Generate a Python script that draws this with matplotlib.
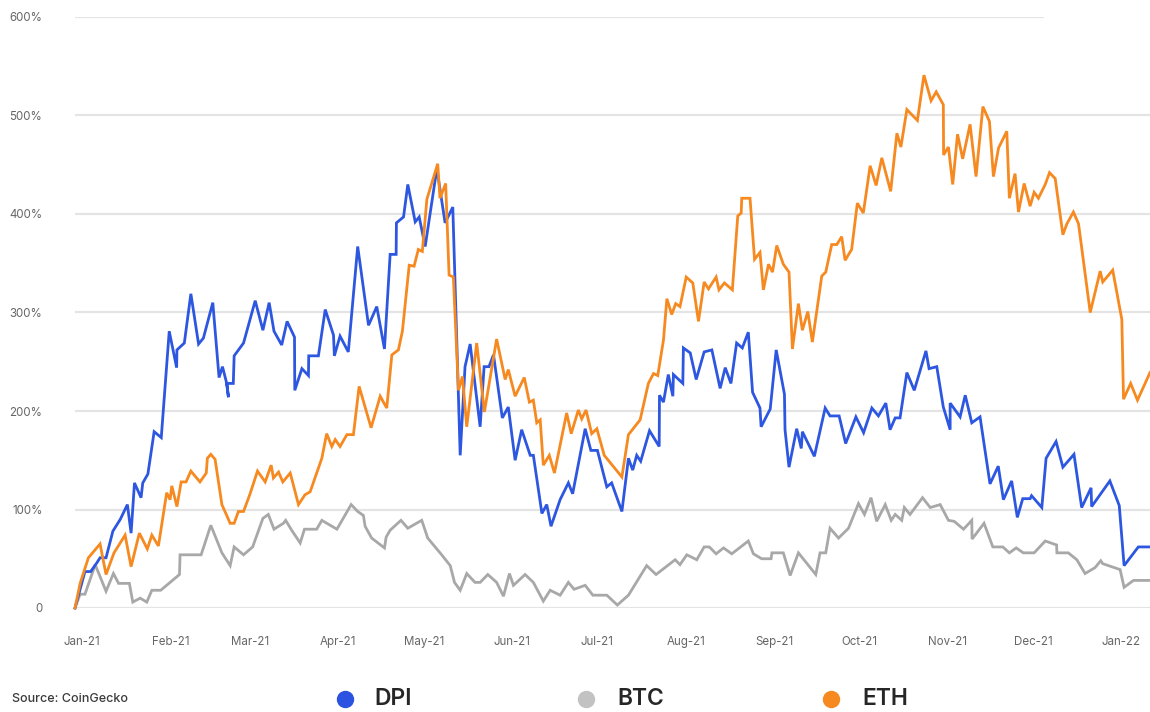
import matplotlib
matplotlib.use("Agg")
import matplotlib.pyplot as plt
from matplotlib.lines import Line2D
import pandas as pd

plt.rcParams['font.family'] = ['Inter', 'DejaVu Sans']

# ---- data: days since 2021-01-01, cumulative return in % ----
dpi_day = [-2.5, 1, 3, 5.2, 6.3, 8.4, 10.8, 13.4, 15.9, 17.2, 18.4, 20.7, 21.3, 23.1, 25.3, 27.8,
           30.6, 33.2, 33.3, 35.9, 38.2, 40.9, 42.6, 45.9, 48.1, 49.3, 50.8, 51.4, 50.8, 53.1, 53.4,
           56.7, 60.8, 63.5, 65.7, 67.4, 70.1, 72.0, 74.6, 74.7, 77.2, 79.5, 79.6, 83.0, 85.4, 88.3,
           88.6, 90.6, 93.5, 96.8, 100.6, 103.5, 106.2, 108.2, 110.3, 110.4, 112.9, 114.4, 117.0,
           118.4, 120.5, 124.6, 127.5, 130.2, 132.8, 134.5, 136.3, 139.8, 141.2, 142.9, 144.5, 147.6,
           149.7, 152.1, 154.4, 157.4, 158.5, 161.5, 163.2, 164.7, 167.9, 170.8, 172.3, 176.7, 178.7,
           181.0, 184.3, 186.0, 189.6, 191.9, 193.4, 194.8, 196.2, 199.3, 202.7, 202.8, 204.2, 205.9,
           207.5, 207.7, 211.0, 211.2, 213.6, 215.7, 218.5, 221.2, 224.1, 225.9, 227.9, 229.9, 231.9,
           234.0, 235.5, 238.1, 238.5, 241.7, 243.8, 246.7, 246.9, 248.3, 251.0, 252.6, 253.0, 257.2,
           261.0, 262.7, 265.9, 268.2, 271.8, 274.5, 277.4, 279.7, 282.3, 283.8, 285.6, 287.3, 289.7,
           292.3, 296.4, 297.5, 300.2, 302.5, 304.9, 304.9, 308.4, 310.2, 312.5, 315.4, 318.9, 321.8,
           323.6, 326.5, 328.5, 330.4, 333.0, 333.5, 337.1, 338.6, 342.1, 344.5, 348.4, 351.1, 354.4,
           354.6, 361.0, 364.3, 366.0, 371.0, 375.1]
dpi_pct = [0, 37, 37, 46, 51, 51, 78, 90, 105, 76, 127, 112, 127, 136, 179, 173,
           281, 244, 262, 269, 319, 268, 274, 310, 234, 245, 228, 214, 228, 228, 256,
           269, 312, 282, 310, 281, 267, 291, 275, 221, 243, 236, 256, 256, 303, 277,
           256, 276, 260, 367, 287, 306, 263, 359, 359, 391, 397, 430, 392,
           397, 367, 446, 391, 407, 155, 245, 268, 184, 245, 245, 257, 193,
           204, 150, 181, 155, 155, 96, 105, 83, 110, 127, 116, 182, 160,
           160, 123, 127, 98, 152, 140, 155, 149, 180, 164, 216, 209, 237,
           215, 237, 228, 264, 259, 232, 260, 262, 223, 244, 228, 269, 264,
           280, 219, 203, 184, 202, 262, 217, 181, 143, 182, 162, 179, 154,
           203, 195, 195, 167, 194, 178, 203, 195, 208, 181, 193, 193, 239,
           221, 261, 243, 245, 204, 181, 208, 194, 216, 188, 194, 126, 144,
           110, 129, 92, 111, 111, 114, 102, 152, 169, 143, 156, 102, 122,
           103, 129, 104, 43, 62, 62]

btc_day = [-2.5, -0.7, 1, 4.6, 8.4, 11.0, 12.8, 16.6, 17.8, 20.4, 22.7, 24.5, 27.6, 30.9, 34.2, 34.4,
           41.8, 45.2, 49.1, 52.0, 53.4, 56.7, 59.9, 63.5, 65.4, 67.4, 70.7, 71.5, 73.6, 76.6, 78.1,
           82.4, 84.2, 89.5, 94.5, 96.8, 98.8, 99.4, 101.7, 106.2, 106.8, 108.2, 112.0, 114.4, 119.3,
           121.4, 126.3, 129.3, 130.8, 132.8, 135.1, 138.0, 139.8, 142.5, 145.6, 148.0, 150.1, 151.5,
           155.6, 158.5, 162.0, 164.4, 167.9, 170.8, 172.8, 176.7, 179.4, 184.3, 188.0, 191.9, 198.3,
           201.6, 208.3, 210.0, 212.4, 215.9, 218.5, 220.3, 222.7, 225.3, 228.2, 234.0, 235.8, 238.7,
           242.0, 242.3, 246.3, 248.7, 251.6, 257.7, 259.2, 261.2, 262.7, 265.7, 269.2, 272.7, 274.8,
           277.1, 279.1, 282.1, 284.2, 285.6, 287.9, 288.8, 290.8, 295.2, 297.9, 301.4, 304.3, 306.3,
           309.6, 312.5, 312.6, 316.8, 319.9, 323.4, 325.7, 328.1, 330.6, 334.4, 338.3, 342.3, 342.4,
           346.4, 349.4, 352.3, 355.8, 357.8, 358.5, 364.6, 366.0, 369.3, 375.1]
btc_pct = [0, 14, 14, 44, 17, 35, 25, 25, 6, 10, 6, 18, 18, 26, 34, 54,
           54, 84, 56, 43, 62, 54, 62, 91, 95, 80, 86, 89, 79, 66, 80,
           80, 89, 80, 105, 98, 94, 83, 71, 61, 72, 79, 89, 81, 89,
           71, 54, 43, 26, 18, 35, 26, 26, 34, 26, 12, 35, 23,
           34, 26, 7, 18, 13, 26, 19, 23, 13, 13, 3, 13, 43,
           34, 49, 44, 54, 49, 62, 62, 55, 61, 55, 68, 55, 50,
           50, 56, 56, 33, 56, 34, 56, 56, 81, 71, 81, 106, 95,
           112, 88, 105, 89, 95, 89, 102, 95, 112, 102, 105, 89, 88,
           80, 89, 70, 86, 62, 62, 56, 61, 56, 56, 68, 64, 56,
           56, 49, 35, 41, 48, 45, 39, 21, 28, 28]

eth_day = [-2.5, -0.7, 2.2, 6.3, 8.4, 11.2, 15.1, 17.2, 20.1, 22.9, 24.5, 26.8, 29.7, 30.9, 31.5,
           33.3, 34.8, 36.5, 38.2, 41.4, 43.6, 44.0, 45.2, 46.7, 49.1, 52.0, 53.4, 54.9, 56.7, 59.0,
           61.6, 64.3, 66.4, 67.2, 69.0, 70.5, 73.1, 76.0, 78.3, 80.1, 84.2, 85.9, 87.7, 88.9, 90.6,
           93.0, 95.3, 97.3, 101.5, 104.7, 107.0, 108.8, 111.1, 112.5, 114.9, 116.6, 118.1, 119.5,
           121.1, 124.9, 125.7, 127.7, 128.9, 130.4, 132.2, 133.6, 135.1, 138.6, 141.3, 145.6, 148.6,
           149.7, 152.1, 155.3, 157.1, 158.5, 159.7, 160.9, 162.0, 164.1, 165.9, 170.2, 171.8, 174.3,
           175.5, 177.0, 179.0, 180.8, 183.4, 189.6, 191.9, 196.0, 198.9, 200.7, 202.2, 204.2, 205.4,
           207.1, 208.5, 210.0, 212.2, 214.5, 216.5, 218.5, 220.0, 222.7, 223.7, 225.6, 228.4, 230.3,
           231.5, 231.7, 234.6, 236.2, 238.1, 239.3, 241.1, 242.5, 244.0, 246.3, 248.3, 249.5, 251.6,
           253.0, 254.9, 256.5, 259.8, 261.2, 263.3, 265.1, 266.8, 268.0, 270.3, 272.3, 274.4, 276.8,
           278.9, 280.9, 284.0, 286.2, 287.6, 289.7, 293.4, 295.7, 298.2, 300.0, 302.5, 302.6, 304.3,
           305.8, 307.5, 309.3, 311.9, 314.0, 316.4, 318.7, 320.1, 321.9, 324.8, 325.7, 327.7, 328.9,
           330.9, 333.0, 334.4, 335.9, 338.3, 339.8, 341.8, 344.5, 345.9, 348.2, 350.0, 354.1, 357.6,
           358.5, 362.0, 365.2, 365.8, 368.3, 370.7, 375.1]
eth_pct = [0, 25, 51, 65, 34, 56, 74, 42, 76, 60, 74, 63, 117, 110, 124,
           103, 128, 128, 139, 128, 137, 152, 156, 151, 105, 86, 86, 98, 98, 116,
           139, 128, 145, 132, 138, 128, 137, 105, 115, 118, 152, 177, 164, 171, 164,
           176, 176, 225, 183, 215, 203, 257, 262, 281, 348, 347, 364, 362,
           415, 451, 416, 431, 338, 336, 221, 235, 184, 269, 199, 273, 232,
           242, 215, 234, 209, 211, 188, 191, 145, 155, 137, 198, 177, 201,
           192, 201, 177, 182, 155, 133, 176, 191, 228, 238, 236, 272, 314,
           298, 309, 306, 336, 330, 291, 331, 324, 336, 323, 330, 323, 398,
           401, 416, 416, 354, 361, 323, 349, 341, 368, 349, 341, 263, 309,
           282, 301, 270, 337, 341, 369, 369, 377, 353, 364, 411, 401, 449,
           429, 457, 423, 482, 468, 506, 495, 541, 515, 524, 511, 460, 468,
           430, 481, 456, 491, 438, 509, 494, 438, 467, 484, 416, 441, 402,
           431, 408, 422, 416, 430, 442, 436, 379, 390, 402, 390, 300, 342,
           331, 343, 293, 212, 228, 211, 239]

y_ticks = [0, 100, 200, 300, 400, 500, 600]
series_names = ['DPI', 'BTC', 'ETH']
series_colors = ['#2d57e0', '#a8a8a8', '#f6891f']
marker_colors = ['#2b52e0', '#c2c2c2', '#f6891f']

# ---- figure ----
W, H = 1150, 712
fig = plt.figure(figsize=(W / 100, H / 100), dpi=100)
ax = fig.add_axes([75 / W, (H - 608) / H, (W - 75) / W, (608 - 17) / H])
ax.set_xlim(-2.5, 375.1)
ax.set_ylim(0, 600)

for s in ax.spines.values():
    s.set_visible(False)

for v in y_ticks:
    xmax = (1043 - 75) / (W - 75) if v == 600 else 1.0
    ax.axhline(v, xmin=0, xmax=xmax, color='#e4e4e4', lw=1.6, zorder=0)

ax.plot(btc_day, btc_pct, color=series_colors[1], lw=2.0, zorder=2, clip_on=False,
        solid_joinstyle='miter')
ax.plot(dpi_day, dpi_pct, color=series_colors[0], lw=2.0, zorder=3, clip_on=False,
        solid_joinstyle='miter')
ax.plot(eth_day, eth_pct, color=series_colors[2], lw=2.0, zorder=4, clip_on=False,
        solid_joinstyle='miter')

ax.set_yticks(y_ticks)
ax.set_yticklabels(['0' if v == 0 else f'{v}%' for v in y_ticks])
months = pd.date_range('2021-01-01', '2022-01-01', freq='MS')
start = pd.Timestamp('2021-01-01')
ax.set_xticks([(m - start).days for m in months])
ax.set_xticklabels([m.strftime('%b-%y') for m in months])
ax.tick_params(axis='both', length=0, labelsize=8.3, labelcolor='#666666')
ax.tick_params(axis='y', pad=23.5)
ax.tick_params(axis='x', pad=20)

# ---- legend row ----
ly = 1 - 699 / H
for name, col, cx, tx in zip(series_names, marker_colors, [345, 586, 831], [374, 617, 862]):
    fig.add_artist(Line2D([cx / W], [ly], transform=fig.transFigure, marker='o',
                          markersize=11.5, color=col, linestyle='none'))
    fig.text(tx / W, ly, name, fontsize=16.5, color='#262626', va='center', ha='left',
             fontweight='semibold')

fig.text(12 / W, ly, 'Source: CoinGecko', fontsize=9, color='#3a3a3a', va='center',
         ha='left', fontweight='medium')

fig.savefig('out.png', dpi=100, facecolor='white')
